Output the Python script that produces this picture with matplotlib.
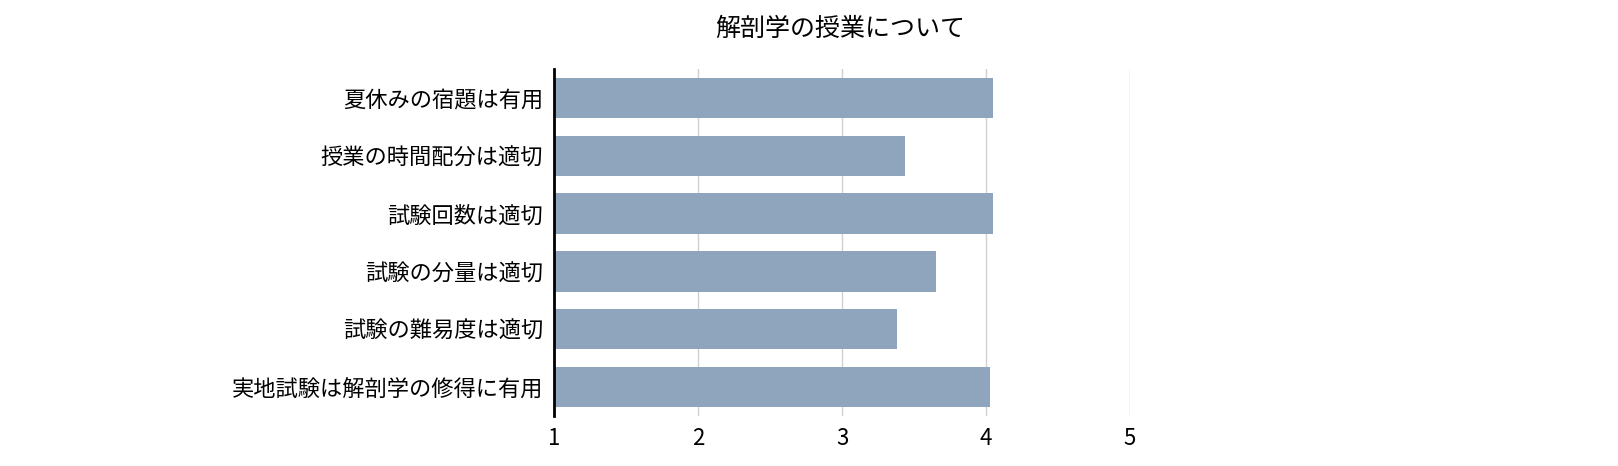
import matplotlib
matplotlib.use("Agg")
import matplotlib.pyplot as plt

plt.rcParams['font.family'] = ['Noto Sans CJK JP', 'DejaVu Sans']

categories = ["夏休みの宿題は有用", "授業の時間配分は適切", "試験回数は適切",
              "試験の分量は適切", "試験の難易度は適切", "実地試験は解剖学の修得に有用"]
values = [4.05, 3.44, 4.05, 3.65, 3.38, 4.03]
title = "解剖学の授業について"

k = 1618 / 1568
fig = plt.figure(figsize=(16.18, 4.66), dpi=100)
L, R, T, B = 537*k, 1095*k, 67*k, 403*k
ax = fig.add_axes([L/1618, 1-B/466, (R-L)/1618, (B-T)/466])
y = list(range(len(categories)))
ax.barh(y, [v - 1 for v in values], left=1, height=0.7, color="#8fa5bd", zorder=2)
ax.set_xlim(1, 5)
ax.set_ylim(len(categories) - 0.5, -0.5)
ax.set_yticks(y)
ax.set_yticklabels(categories, fontsize=16)
ax.set_xticks([1, 2, 3, 4, 5])
ax.set_xticklabels(["1", "2", "3", "4", "5"], fontsize=16)
ax.grid(axis='x', color="#d0d0d0", linewidth=1, zorder=3)
for s in ["top", "right", "bottom"]:
    ax.spines[s].set_visible(False)
ax.spines["left"].set_linewidth(2)
ax.tick_params(axis='both', length=0, pad=8)
fig.text(814*k/1618, 1-28*k/466, title, ha='center', va='center', fontsize=18)
fig.savefig("out.png", dpi=100)
